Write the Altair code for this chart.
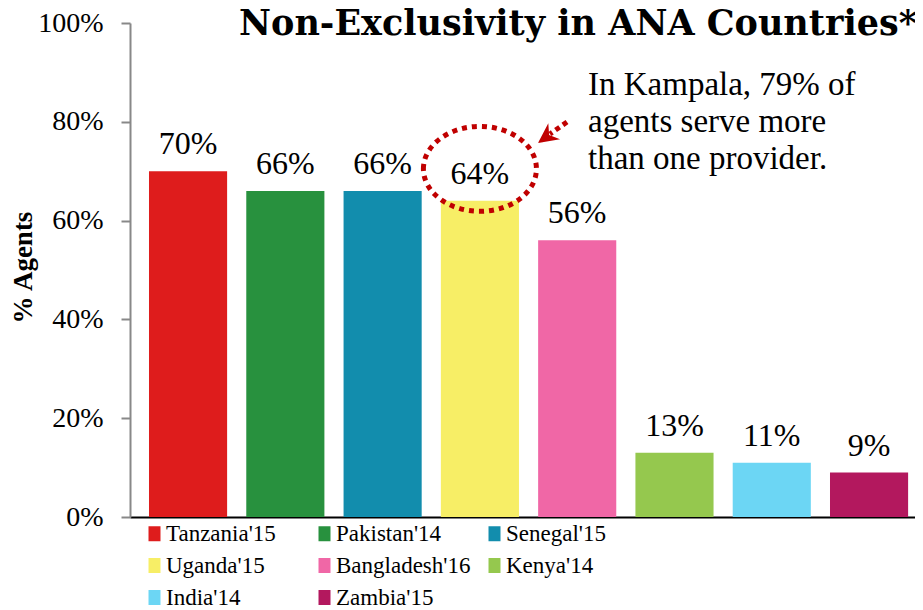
import altair as alt
import pandas as pd

countries = ["Tanzania'15", "Pakistan'14", "Senegal'15", "Uganda'15",
             "Bangladesh'16", "Kenya'14", "India'14", "Zambia'15"]
values = [70, 66, 66, 64, 56, 13, 11, 9]
colors = ["#DE1C1C", "#28913E", "#128DAD", "#F7EE66",
          "#F067A6", "#95C84E", "#6CD6F4", "#B3185E"]
y_ticks = [0, 20, 40, 60, 80, 100]
title_text = "Non-Exclusivity in ANA Countries*"
y_title = "% Agents"
note_lines = ["In Kampala, 79% of", "agents serve more", "than one provider."]
highlight = "Uganda'15"

FONT = "Liberation Serif"
RED = "#C00000"

df = pd.DataFrame({"country": countries, "value": values})

x_enc = alt.X("country:N", sort=countries,
              scale=alt.Scale(paddingInner=0.197, paddingOuter=0.133, align=0.734),
              axis=alt.Axis(labels=False, ticks=False, title=None,
                            domainColor="black", domainWidth=2))
y_enc = alt.Y("value:Q", scale=alt.Scale(domain=[0, 100]),
              axis=alt.Axis(values=y_ticks, labelExpr="datum.value + '%'",
                            title=y_title, titleFont=FONT, titleFontSize=27,
                            titleFontWeight="bold", titleColor="black",
                            titleAngle=270, titleAlign="center", titleBaseline="middle",
                            titleX=-107, titleY=244,
                            labelFont=FONT, labelFontSize=28, labelColor="black",
                            labelPadding=18, tickSize=9, tickColor="#888888",
                            tickWidth=2, domainColor="#888888", domainWidth=2,
                            grid=False))

base = alt.Chart(df).encode(x=x_enc, y=y_enc)

bars = base.mark_bar().encode(
    color=alt.Color("country:N",
                    scale=alt.Scale(domain=countries, range=colors),
                    legend=alt.Legend(title=None, orient="none", legendX=13, legendY=499,
                                      direction="horizontal",
                                      columns=3, gridAlign="all", columnPadding=12,
                                      rowPadding=8, padding=0,
                                      symbolType="M-0.8,-1H0.8V1H-0.8Z", symbolSize=225,
                                      symbolStrokeWidth=0, symbolOpacity=1,
                                      labelFont=FONT, labelFontSize=23,
                                      labelColor="black", labelOffset=0,
                                      labelLimit=300))
)

labels = base.mark_text(baseline="alphabetic", dy=-17, font=FONT, fontSize=32,
                        color="black").transform_calculate(
    lbl="datum.value + '%'").encode(text="lbl:N")

ellipse = base.mark_point(
    shape="M-1,-0.566A1,0.752 0 1,1 1,-0.566A1,0.752 0 1,1 -1,-0.566Z",
    size=12769, filled=False, stroke=RED, strokeWidth=5, strokeDash=[5, 5], opacity=1
).transform_filter(alt.datum.country == highlight)

one = pd.DataFrame({"k": [0]})
arrow_tail = alt.Chart(one).mark_rule(color=RED, strokeWidth=5, strokeDash=[5, 4]).encode(
    x=alt.value(437), y=alt.value(99), x2=alt.value(420), y2=alt.value(111))
arrow_head = alt.Chart(one).mark_point(
    shape="M0,0L0.8,1.6L0,1.1L-0.8,1.6Z", filled=True, fill=RED, size=625,
    angle=234, opacity=1, strokeWidth=0).encode(x=alt.value(408), y=alt.value(120))

note = alt.Chart(one).mark_text(align="left", baseline="alphabetic", font=FONT,
                                fontSize=33, lineHeight=37, color="black").encode(
    x=alt.value(458), y=alt.value(72), text=alt.value(note_lines))

title = alt.Chart(one).mark_text(align="right", baseline="alphabetic", font="DejaVu Serif",
                                 fontSize=35, fontWeight="bold", color="black").encode(
    x=alt.value(787), y=alt.value(12), text=alt.value(title_text))

chart = alt.layer(bars, labels, ellipse, arrow_tail, arrow_head, note, title).properties(
    width=785, height=494,
    autosize=alt.AutoSizeParams(type="none"),
    padding={"left": 122, "top": 15, "right": 0, "bottom": 98},
).configure_view(stroke=None)

chart.save("out.html", embed_options={"renderer": "svg", "actions": False})
